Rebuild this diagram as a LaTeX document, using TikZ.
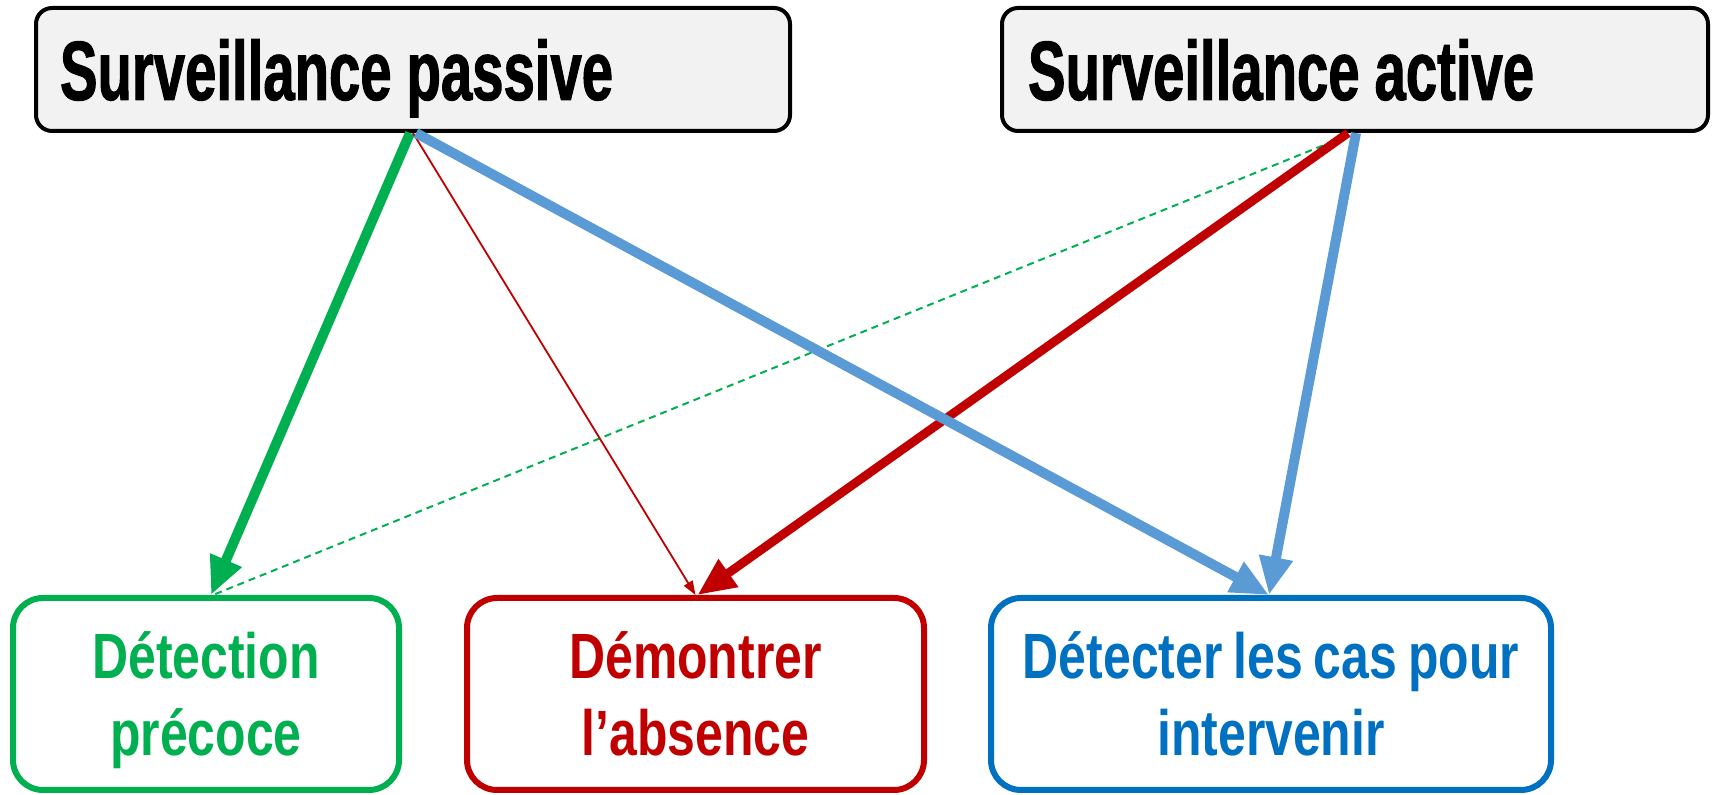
\documentclass[tikz,border=0pt]{standalone}
\usepackage{fontspec}
\setmainfont{Liberation Sans}
\newfontfamily\headfont[FakeStretch=0.67,FakeBold=1.2]{Liberation Sans}
\newfontfamily\goalfont[FakeStretch=0.78]{Liberation Sans}
\newcommand\tightsp[1]{\spaceskip=#1 plus 1pt\relax}
\usetikzlibrary{arrows.meta}

\definecolor{grn}{HTML}{00B050}
\definecolor{rd}{HTML}{C00000}
\definecolor{lblue}{HTML}{5B9BD5}
\definecolor{dblue}{HTML}{0070C0}

\begin{document}
\begin{tikzpicture}[x=0.5pt,y=-0.5pt,
  head/.style={draw=black,line width=2pt,fill=black!5,rounded corners=8pt,
    minimum height=61.5pt,inner xsep=12pt,inner ysep=0pt,align=left,text depth=0pt,
    font=\headfont\bfseries\fontsize{42}{44}\selectfont,execute at begin node=\tightsp{7.5pt}},
  goal/.style={draw=#1,text=#1,line width=3pt,fill=white,rounded corners=15pt,
    minimum height=96pt,align=center,text depth=0pt,
    font=\goalfont\bfseries\fontsize{32}{38.5}\selectfont\tightsp{5.5pt}},
  fat/.style={line width=5pt,-{Triangle[length=19pt,width=16pt]}}]
  \useasboundingbox (0,0) rectangle (1715,795);

  \node[head,text width=353pt] (sp) at (413,69.5) {Surveillance passive};
  \node[head,text width=327pt,inner xsep=13pt] (sa) at (1355,69.5) {Surveillance active};

  \node[goal=grn,minimum width=193pt] (det) at (206,694) {Détection\\précoce};
  \node[goal=rd,minimum width=228.5pt] (dem) at (695.5,694) {Démontrer\\l’absence};
  \node[goal=dblue,minimum width=280pt] (int) at (1271,694) {Détecter les cas pour\\intervenir};

  \draw[grn,line width=1pt,dash pattern=on 3.5pt off 2.5pt] ([xshift=-10.5pt,yshift=-4pt]sa.south) -- ([xshift=3.5pt]det.north);
  \draw[fat,grn] ([xshift=-1.5pt]sp.south) -- ([xshift=2.5pt]det.north);
  \draw[rd,line width=0.9pt,-{Triangle[length=7pt,width=5pt]}] (sp.south) -- (dem.north);
  \draw[fat,rd,line width=4.4pt] ([xshift=-3.5pt]sa.south) -- ([xshift=1pt]dem.north);
  \draw[fat,lblue] ([xshift=1.5pt]sp.south) -- ([xshift=-1pt]int.north);
  \draw[fat,lblue] ([xshift=0.5pt]sa.south) -- ([xshift=-1pt]int.north);
\end{tikzpicture}
\end{document}
